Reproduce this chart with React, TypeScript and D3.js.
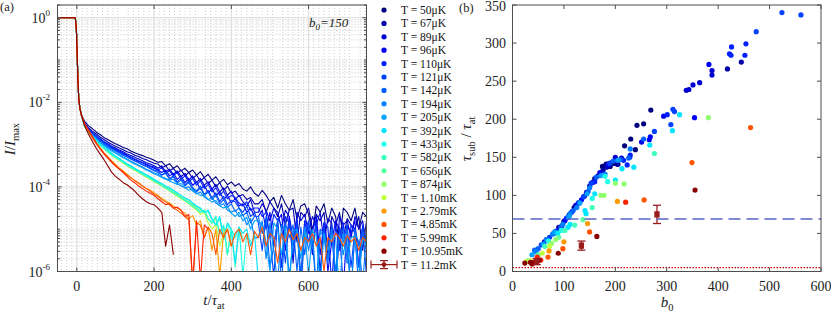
import React from 'react'
import * as d3 from 'd3'

const width = 831
const height = 317
const serif = "'Liberation Serif', 'Times New Roman', 'DejaVu Serif', serif"

// plot frames (px)
const frameA = { left: 57.5, right: 366.5, top: 5, bottom: 271.5 }
const frameB = { left: 512.5, right: 821, top: 5, bottom: 271.5 }

const tempLabels = [
  'T = 50μK', 'T = 67μK', 'T = 89μK', 'T = 96μK', 'T = 110μK', 'T = 121μK', 'T = 142μK',
  'T = 194μK', 'T = 205μK', 'T = 392μK', 'T = 433μK', 'T = 582μK', 'T = 656μK', 'T = 874μK',
  'T = 1.10mK', 'T = 2.79mK', 'T = 4.85mK', 'T = 5.99mK', 'T = 10.95mK', 'T = 11.2mK',
]
const tempColors = [
  '#00007f', '#0000a8', '#0000d0', '#0000f5', '#0020ff', '#0040ff', '#0060ff',
  '#0080ff', '#00a0ff', '#00e5ff', '#1effe6', '#40ffbf', '#5fffa0', '#8fff70',
  '#c0ff40', '#ff9a00', '#ff5500', '#ff2200', '#8b0000', '#9b1c1c',
]

// (a) shared start of every decay: t / tau_at and log10(I/Imax)
const headT = [-50, -4, -1, 1, 3, 5, 8, 12]
const headLog = [0, 0, -0.3, -0.9, -1.5, -1.9, -2.15, -2.3]

// (a) log10(I/Imax) sampled every 10 tau_at starting at t = 20
const tailStart = 20
const tailStep = 10
const decayT50 = [-2.45, -2.55, -2.62, -2.7, -2.76, -2.83, -2.88, -2.93, -2.98,
  -3.02, -3.07, -3.1, -3.15, -3.19, -3.23, -3.26, -3.3, -3.33, -3.37,
  -3.42, -3.4, -3.5, -3.45, -3.56, -3.5, -3.62, -3.56, -3.66, -3.6,
  -3.72, -3.64, -3.78, -3.7, -3.84, -3.76, -3.9, -3.82, -3.95, -3.88,
  -3.98, -3.92, -4.05, -4.1, -4.0, -4.15,
  -4.22, -4.08, -4.2, -4.35, -4.25, -4.5, -4.2, -4.4, -4.55, -4.3, -4.75, -4.45, -4.4, -4.65, -5.1,
  -4.45, -4.6, -4.4, -4.85, -4.5, -4.7, -5.4, -4.5, -4.6, -4.8, -4.5, -5.0, -4.6, -4.7, -4.6]
const decayT67 = [-2.5, -2.6, -2.68, -2.75, -2.82, -2.88, -2.94, -2.99, -3.04,
  -3.08, -3.12, -3.17, -3.2, -3.25, -3.28, -3.33, -3.36, -3.4, -3.44,
  -3.46, -3.55, -3.5, -3.62, -3.56, -3.68, -3.6, -3.74, -3.66, -3.8,
  -3.72, -3.86, -3.78, -3.92, -3.84, -4.0, -3.9, -4.08, -3.98, -4.15,
  -4.1, -4.22, -4.18, -4.3, -4.25, -4.4,
  -4.4, -4.3, -4.6, -4.35, -4.5, -4.7, -4.4, -4.9, -4.55, -4.5, -5.3, -4.6, -4.7, -4.5, -5.0,
  -4.65, -4.8, -4.6, -5.6, -4.7, -4.9, -4.6, -5.2, -4.75, -4.9, -5.0, -4.7, -5.5, -4.8, -4.9]
const decayT89 = [-2.52, -2.63, -2.72, -2.8, -2.86, -2.93, -2.98, -3.04, -3.08,
  -3.13, -3.17, -3.22, -3.26, -3.3, -3.34, -3.38, -3.43, -3.46, -3.5,
  -3.56, -3.5, -3.64, -3.58, -3.7, -3.62, -3.76, -3.68, -3.84, -3.74,
  -3.9, -3.8, -3.96, -3.88, -4.05, -3.94, -4.12, -4.02, -4.2, -4.1,
  -4.3, -4.2, -4.35, -4.45, -4.3, -4.6,
  -4.6, -4.4, -4.55, -4.8, -4.5, -4.6, -5.0, -4.55, -4.7, -5.8, -4.6, -4.8, -4.65, -5.1, -4.7,
  -4.9, -4.6, -5.3, -4.75, -4.85, -6.2, -4.7, -4.9, -4.8, -5.2, -4.7, -5.0, -4.8, -5.4, -4.9]
const decayT96 = [-2.55, -2.66, -2.75, -2.83, -2.9, -2.96, -3.02, -3.07, -3.12,
  -3.17, -3.22, -3.26, -3.31, -3.35, -3.4, -3.43, -3.48, -3.52, -3.56,
  -3.6, -3.66, -3.6, -3.74, -3.68, -3.82, -3.74, -3.9, -3.8, -3.96,
  -3.88, -4.06, -3.96, -4.14, -4.04, -4.22, -4.12, -4.3, -4.2, -4.38,
  -4.28, -4.45, -4.4, -4.6, -4.5, -4.7,
  -4.7, -4.55, -5.0, -4.6, -5.4, -4.8, -4.65, -5.5, -4.7, -5.2, -4.75, -6.3, -4.8, -4.9, -5.6,
  -4.7, -5.6, -4.85, -6.0, -5.3, -4.8, -5.0, -6.4, -4.9, -5.1, -4.8, -5.9, -4.95, -5.3, -5.2]
const decayT110 = [-2.5, -2.62, -2.71, -2.79, -2.87, -2.93, -2.99, -3.05, -3.1,
  -3.15, -3.2, -3.25, -3.29, -3.34, -3.38, -3.42, -3.46, -3.5, -3.53,
  -3.6, -3.55, -3.68, -3.62, -3.74, -3.66, -3.82, -3.74, -3.88, -3.8,
  -3.96, -3.86, -4.04, -3.94, -4.12, -4.02, -4.2, -4.1, -4.28, -4.2,
  -4.25, -4.38, -4.45, -4.35, -4.55, -4.5,
  -4.5, -4.7, -4.6, -5.2, -4.65, -4.8, -5.9, -4.7, -4.85, -5.4, -4.75, -6.2, -4.8, -5.3, -5.0,
  -4.8, -6.0, -4.85, -4.95, -6.3, -4.9, -5.5, -4.85, -5.8, -4.9, -5.1, -6.4, -4.9, -5.3, -5.0]
const decayT121 = [-2.55, -2.67, -2.76, -2.84, -2.91, -2.98, -3.04, -3.1, -3.15,
  -3.2, -3.25, -3.29, -3.34, -3.38, -3.43, -3.47, -3.51, -3.55, -3.6,
  -3.63, -3.72, -3.66, -3.8, -3.74, -3.88, -3.8, -3.95, -3.86, -4.02,
  -4.1, -3.98, -4.18, -4.08, -4.26, -4.14, -4.35, -4.22, -4.42, -4.32,
  -4.35, -4.5, -4.6, -4.45, -4.7, -4.6,
  -4.85, -5.5, -4.7, -5.2, -6.1, -4.75, -4.9, -5.8, -4.8, -5.6, -4.85, -6.4, -5.1, -4.8, -5.4,
  -4.9, -6.2, -4.95, -5.5, -4.9, -6.5, -4.95, -5.3, -4.9, -5.9, -5.0, -5.4, -4.95, -6.1, -5.0]
const decayT142 = [-2.53, -2.65, -2.74, -2.82, -2.9, -2.97, -3.03, -3.09, -3.14,
  -3.19, -3.24, -3.29, -3.34, -3.39, -3.43, -3.48, -3.52, -3.57, -3.62,
  -3.66, -3.72, -3.68, -3.82, -3.76, -3.9, -3.84, -3.98, -3.9, -4.06,
  -4.12, -4.02, -4.2, -4.12, -4.3, -4.2, -4.4, -4.3, -4.48, -4.4,
  -4.58, -4.5, -4.68, -4.6, -4.85, -4.7,
  -4.7, -5.1, -4.75, -5.9, -5.4, -4.8, -6.3, -4.85, -5.2, -4.9, -6.0, -4.95, -5.6, -4.9, -5.3,
  -6.4, -5.0, -5.1, -5.7, -5.0, -6.2, -5.2, -5.0, -5.4, -6.5, -5.0, -5.9, -5.05, -5.4, -5.1]
const decayT194 = [-2.56, -2.68, -2.78, -2.86, -2.94, -3.01, -3.07, -3.13, -3.19,
  -3.24, -3.29, -3.34, -3.39, -3.44, -3.49, -3.53, -3.58, -3.62, -3.67,
  -3.7, -3.76, -3.8, -3.84, -3.82, -3.92, -3.98, -4.02, -4.0, -4.1,
  -4.16, -4.12, -4.24, -4.3, -4.26, -4.38, -4.44, -4.4, -4.55, -4.6,
  -4.55, -4.7, -4.65, -4.9, -4.75, -5.2,
  -5.2, -4.8, -5.7, -4.85, -5.5, -6.3, -4.9, -5.0, -6.1, -5.3, -5.0, -6.2, -4.95, -5.5, -5.0,
  -6.4, -5.05, -5.2, -5.8, -5.0, -6.0, -5.1, -5.6, -5.05, -6.5, -5.1, -5.3, -6.3, -5.1, -5.2]
const decayT205 = [-2.55, -2.68, -2.78, -2.87, -2.95, -3.02, -3.09, -3.15, -3.2,
  -3.26, -3.31, -3.36, -3.41, -3.46, -3.5, -3.55, -3.6, -3.64, -3.69,
  -3.73, -3.78, -3.82, -3.86, -3.9, -3.94, -3.92, -4.02, -4.08, -4.05,
  -4.15, -4.2, -4.18, -4.3, -4.36, -4.32, -4.45, -4.5, -4.46, -4.62,
  -4.7, -4.6, -4.8, -4.72, -5.0, -4.8,
  -4.8, -4.9, -5.3, -6.0, -4.85, -5.0, -5.6, -4.95, -6.4, -5.05, -5.0, -5.7, -5.0, -6.1, -5.05,
  -5.15, -6.3, -5.1, -5.5, -5.15, -5.2, -6.5, -5.1, -5.8, -5.2, -5.15, -6.2, -5.2, -5.4, -5.2]
const decayT392 = [-2.55, -2.68, -2.79, -2.89, -2.98, -3.06, -3.13, -3.2, -3.27,
  -3.33, -3.39, -3.45, -3.5, -3.56, -3.61, -3.66, -3.71, -3.76, -3.82,
  -3.87, -3.92, -3.98, -4.02, -4.08, -4.14, -4.2, -4.26, -4.3, -4.38,
  -4.45, -4.5, -4.6, -4.55, -4.75, -4.9, -4.7, -5.2, -4.85, -5.0,
  -5.8, -4.95, -5.1, -5.0, -5.4, -5.1, -6.2]
const decayT433 = [-2.57, -2.7, -2.82, -2.92, -3.01, -3.09, -3.17, -3.24, -3.3,
  -3.36, -3.42, -3.48, -3.54, -3.59, -3.64, -3.7, -3.75, -3.8, -3.86,
  -3.91, -3.97, -4.02, -4.08, -4.14, -4.2, -4.25, -4.32, -4.38, -4.45,
  -4.52, -4.6, -4.55, -4.75, -4.85, -4.7, -5.1, -4.9, -5.6, -5.0,
  -5.2, -4.95, -6.1, -5.1, -5.3]
const decayT582 = [-2.56, -2.69, -2.8, -2.9, -2.99, -3.07, -3.14, -3.21, -3.28,
  -3.34, -3.4, -3.46, -3.51, -3.57, -3.62, -3.67, -3.72, -3.77, -3.83,
  -3.88, -3.93, -3.99, -4.04, -4.1, -4.16, -4.22, -4.28, -4.33, -4.4,
  -4.47, -4.53, -4.62, -4.58, -4.78, -4.92, -4.75, -5.25, -4.9, -5.05, -5.9, -5.0, -5.2]
const decayT656 = [-2.57, -2.7, -2.82, -2.92, -3.01, -3.09, -3.17, -3.24, -3.31,
  -3.37, -3.43, -3.49, -3.55, -3.6, -3.65, -3.71, -3.76, -3.81, -3.87,
  -3.92, -3.97, -4.03, -4.09, -4.15, -4.21, -4.27, -4.33, -4.39, -4.46,
  -4.53, -4.6, -4.56, -4.76, -4.86, -4.72, -5.12, -4.92, -5.6, -5.02, -5.2]
const decayT874 = [-2.57, -2.7, -2.81, -2.91, -3.0, -3.08, -3.16, -3.23, -3.3,
  -3.36, -3.42, -3.47, -3.53, -3.58, -3.63, -3.68, -3.74, -3.79, -3.85,
  -3.9, -3.95, -4.01, -4.06, -4.12, -4.18, -4.24, -4.3, -4.36, -4.42,
  -4.5, -4.58, -4.55, -4.75, -4.85, -4.75, -5.1, -4.95, -5.6, -5.0]
const decayT1100 = [-2.58, -2.71, -2.83, -2.93, -3.02, -3.1, -3.18, -3.25, -3.32,
  -3.38, -3.44, -3.5, -3.56, -3.61, -3.66, -3.71, -3.77, -3.82, -3.88,
  -3.93, -3.98, -4.04, -4.1, -4.16, -4.22, -4.28, -4.34, -4.4, -4.48,
  -4.55, -4.65, -4.6, -4.85, -5.0, -4.9, -5.4, -5.1]
const decayT2790 = [-2.52, -2.67, -2.82, -2.96, -3.08, -3.19, -3.29, -3.38, -3.47,
  -3.55, -3.62, -3.7, -3.78, -3.85, -3.92, -3.98, -4.04, -4.08, -4.14,
  -4.2, -4.27, -4.33, -4.38, -4.45, -4.5, -4.56, -4.62, -4.75, -4.68,
  -4.9, -4.8, -5.2, -4.95, -5.5, -5.0, -6.1, -5.1, -5.0, -5.4]
const decayT4850 = [-2.52, -2.68, -2.84, -2.98, -3.1, -3.22, -3.32, -3.42, -3.5,
  -3.58, -3.64, -3.72, -3.78, -3.85, -3.9, -3.98, -4.04, -4.1, -4.18,
  -4.22, -4.3, -4.36, -4.42, -4.5, -4.55, -4.62, -4.7, -4.78, -6.3,
  -4.85, -4.9, -5.2, -4.95, -5.1, -5.6, -5.0, -5.2, -5.0, -5.4,
  -5.1, -5.0, -5.3, -5.1, -5.6, -5.05, -5.2, -4.95, -5.4, -5.1,
  -5.2, -5.8, -5.1, -5.3, -5.0, -5.25, -5.1, -5.5, -5.2, -5.3,
  -5.1, -5.4, -5.2, -6.0, -5.2, -5.3, -5.1, -5.2, -5.4, -5.15,
  -5.3, -5.2, -5.5, -5.2, -5.3]
const decayT5990 = [-2.5, -2.65, -2.8, -2.95, -3.08, -3.2, -3.3, -3.4, -3.5,
  -3.58, -3.66, -3.75, -3.84, -3.9, -3.98, -4.04, -4.1, -4.15, -4.2,
  -4.28, -4.35, -4.42, -4.4, -4.5, -4.48, -4.55, -4.7, -4.65, -6.3,
  -4.8, -6.2, -4.9, -5.0]
const decayT10950 = [-2.55, -2.75, -2.92, -3.08, -3.22, -3.35, -3.5, -3.65, -3.75,
  -3.82, -3.9, -3.95, -4.02, -4.1, -4.2, -4.28, -4.35, -4.4, -4.42,
  -4.5, -4.6, -5.4, -4.9, -5.6]

// (b) tau_sub / tau_at versus b0, [b0, tau]
const pointsT50 = [[175, 138], [182, 141], [188, 142], [193, 143], [198, 142], [204, 141], [190, 138], [218, 165], [230, 174], [242, 192], [255, 194], [269, 212], [239, 160], [120, 84], [140, 99], [160, 122], [167, 126], [100, 66], [80, 50]]
const pointsT67 = [[445, 275], [418, 266], [150, 112], [156, 117], [176, 133], [183, 137], [130, 90], [110, 74], [90, 58], [66, 42], [205, 141]]
const pointsT89 = [[364, 248], [351, 245], [343, 239], [338, 238], [388, 258], [388, 264], [200, 150], [212, 149], [144, 104], [123, 87], [96, 60], [62, 39]]
const pointsT96 = [[354, 202], [382, 272], [294, 204], [251, 170], [266, 173], [268, 177], [134, 94], [115, 78], [102, 67], [85, 53], [170, 130], [186, 140]]
const pointsT110 = [[422, 286], [425, 284], [452, 284], [426, 295], [454, 299], [228, 150], [229, 153], [216, 146], [223, 140], [301, 206], [160, 118], [128, 90], [105, 70]]
const pointsT121 = [[474, 315], [524, 340], [561, 337], [308, 193], [312, 213], [315, 210], [276, 184], [189, 142], [153, 116], [138, 98], [86, 52], [72, 45], [56, 35]]
const pointsT142 = [[255, 174], [226, 149], [163, 124], [147, 105], [118, 80], [108, 71], [94, 58], [50, 30], [43, 28], [196, 145], [210, 147]]
const pointsT194 = [[229, 161], [150, 110], [125, 84], [112, 76], [98, 62], [78, 49], [66, 42], [46, 26], [180, 128]]
const pointsT205 = [[205, 146], [172, 126], [145, 102], [131, 90], [110, 72], [82, 52], [60, 36], [38, 22]]
const pointsT392 = [[311, 185], [267, 166], [236, 137], [213, 135], [325, 206], [141, 80], [143, 76], [108, 58], [112, 62], [88, 50], [160, 102], [200, 120]]
const pointsT433 = [[180, 125], [155, 96], [95, 54], [70, 40], [185, 118]]
const pointsT582 = [[276, 155], [155, 84], [121, 61], [102, 54], [63, 33]]
const pointsT656 = [[137, 68], [90, 45], [50, 22], [30, 14]]
const pointsT874 = [[381, 202], [217, 115], [200, 116], [172, 100], [178, 100], [84, 42], [76, 37]]
const pointsT1100 = [[72, 33], [27, 13], [35, 14], [58, 24]]
const pointsT2790 = [[146, 63], [100, 39], [71, 27], [204, 92]]
const pointsT4850 = [[463, 189], [349, 143], [150, 52], [256, 94], [98, 30], [69, 19]]
const pointsT5990 = [[220, 91], [48, 19], [40, 12], [55, 15]]
const pointsT10950 = [[355, 107], [164, 46], [89, 24], [24, 11], [35, 12], [45, 13], [52, 15], [38, 10]]
// T = 11.2 mK: [b0, tau, error]
const errorT11200 = [[47, 13, 4], [134, 34, 6], [281, 75, 12]]

const decayLevel = 69 // dashed reference line
const floorLevel = 5 // dotted reference line

const decays = [decayT50, decayT67, decayT89, decayT96, decayT110, decayT121, decayT142, decayT194, decayT205,
  decayT392, decayT433, decayT582, decayT656, decayT874, decayT1100, decayT2790, decayT4850, decayT5990, decayT10950]
const points = [pointsT50, pointsT67, pointsT89, pointsT96, pointsT110, pointsT121, pointsT142, pointsT194, pointsT205,
  pointsT392, pointsT433, pointsT582, pointsT656, pointsT874, pointsT1100, pointsT2790, pointsT4850, pointsT5990, pointsT10950]
// greens sit under the cyan traces in (a)
const drawOrder = [0, 1, 2, 3, 4, 5, 6, 7, 8, 11, 12, 13, 14, 9, 10, 15, 16, 17, 18]

const axisColor = '#4d4d4d'
const errColor = tempColors[19]

export default function App() {
  const xA = d3.scaleLinear().domain([-50, 750]).range([frameA.left, frameA.right])
  const yA = d3.scaleLog().domain([1e-6, 2]).range([frameA.bottom, frameA.top])
  const xB = d3.scaleLinear().domain([0, 600]).range([frameB.left, frameB.right])
  const yB = d3.scaleLinear().domain([0, 350]).range([frameB.bottom, frameB.top])

  const decayLine = d3
    .line<number[]>()
    .x((d) => xA(d[0]))
    .y((d) => yA(Math.pow(10, d[1])))

  const curves = decays.map((vals) =>
    headT.map((t, i) => [t, headLog[i]]).concat(vals.map((v, i) => [tailStart + i * tailStep, v]))
  )

  // log grid values
  const minorY: number[] = []
  for (let e = -6; e <= 0; e++) {
    for (let k = 1; k <= 9; k++) {
      const v = k * Math.pow(10, e)
      if (v <= 2 && !(k === 1 && e % 2 === 0)) minorY.push(v)
    }
  }
  const majorY = [1e-6, 1e-4, 1e-2, 1]
  const majorXA = [0, 200, 400, 600]
  const minorXA = d3.range(-3, 57).map((i) => (i * 200) / 15).filter((t, i) => (i + 3) % 15 !== 0 && t > -50 && t < 750)

  const xTicksB = d3.range(0, 601, 100)
  const yTicksB = d3.range(0, 351, 50)

  const legendY = (i: number) => 10 + i * 13.4
  const tk = 4
  const txt = { fontFamily: serif }

  return (
    <svg width={width} height={height} style={{ position: 'absolute', left: 0, top: 0, background: '#fff', fontFamily: serif }}>
      <defs>
        <clipPath id="clipA">
          <rect x={frameA.left} y={frameA.top} width={frameA.right - frameA.left} height={frameA.bottom - frameA.top} />
        </clipPath>
      </defs>

      {/* ---------- panel (a) ---------- */}
      <g>
        {minorY.map((v, i) => (
          <line key={'gy' + i} x1={frameA.left} x2={frameA.right} y1={yA(v)} y2={yA(v)} stroke="#bdbdbd" strokeWidth={0.8} strokeDasharray="1 2" />
        ))}
        {minorXA.map((t, i) => (
          <line key={'gx' + i} x1={xA(t)} x2={xA(t)} y1={frameA.top} y2={frameA.bottom} stroke="#c4c4c4" strokeWidth={0.8} strokeDasharray="1 2" />
        ))}
        {majorY.map((v, i) => (
          <line key={'My' + i} x1={frameA.left} x2={frameA.right} y1={yA(v)} y2={yA(v)} stroke="#dcdcdc" strokeWidth={1} />
        ))}
        {majorXA.map((t, i) => (
          <line key={'Mx' + i} x1={xA(t)} x2={xA(t)} y1={frameA.top} y2={frameA.bottom} stroke="#dcdcdc" strokeWidth={1} />
        ))}
      </g>
      <g clipPath="url(#clipA)" fill="none" strokeWidth={1.1} strokeLinejoin="round">
        {drawOrder.map((i) => (
          <path key={'c' + i} d={decayLine(curves[i]) || ''} stroke={tempColors[i]} />
        ))}
      </g>
      <g stroke={axisColor} strokeWidth={1}>
        <rect x={frameA.left} y={frameA.top} width={frameA.right - frameA.left} height={frameA.bottom - frameA.top} fill="none" />
        {majorXA.map((t) => (
          <g key={'tx' + t}>
            <line x1={xA(t)} x2={xA(t)} y1={frameA.bottom} y2={frameA.bottom - tk} />
            <line x1={xA(t)} x2={xA(t)} y1={frameA.top} y2={frameA.top + tk} />
          </g>
        ))}
        {minorY.map((v, i) => (
          <g key={'ty' + i}>
            <line x1={frameA.left} x2={frameA.left + 2.5} y1={yA(v)} y2={yA(v)} />
            <line x1={frameA.right} x2={frameA.right - 2.5} y1={yA(v)} y2={yA(v)} />
          </g>
        ))}
        {majorY.map((v, i) => (
          <g key={'tY' + i}>
            <line x1={frameA.left} x2={frameA.left + tk} y1={yA(v)} y2={yA(v)} />
            <line x1={frameA.right} x2={frameA.right - tk} y1={yA(v)} y2={yA(v)} />
          </g>
        ))}
      </g>
      <g fontSize={14} fill="#222" style={txt}>
        {majorXA.map((t) => (
          <text key={'lx' + t} x={xA(t)} y={291} textAnchor="middle">{t}</text>
        ))}
        {majorY.map((v) => (
          <text key={'ly' + v} x={50} y={yA(v) + 5} textAnchor="end">
            10<tspan fontSize={9} dy={-7}>{Math.round(Math.log10(v))}</tspan>
          </text>
        ))}
        <text x={214} y={305} textAnchor="middle" fontSize={15}>
          <tspan fontStyle="italic">t</tspan>/<tspan fontStyle="italic">τ</tspan>
          <tspan fontSize={10.5} dy={4}>at</tspan>
        </text>
        <text transform="translate(15,139) rotate(-90)" textAnchor="middle" fontSize={15}>
          <tspan fontStyle="italic">I</tspan>/<tspan fontStyle="italic">I</tspan>
          <tspan fontSize={10.5} dy={4}>max</tspan>
        </text>
        <text x={0} y={11} fontSize={12.5}>(a)</text>
        <text x={309} y={27} fontSize={13} fontStyle="italic">
          b<tspan fontSize={9} dy={3}>0</tspan><tspan dy={-3}>=150</tspan>
        </text>
      </g>

      {/* ---------- legend ---------- */}
      <g style={txt}>
        {tempLabels.map((label, i) => (
          <g key={'lg' + i}>
            {i < 19 ? (
              <circle cx={384} cy={legendY(i)} r={2.6} fill={tempColors[i]} />
            ) : (
              <g stroke={errColor} strokeWidth={1.2}>
                <line x1={371} x2={397} y1={legendY(i)} y2={legendY(i)} />
                <line x1={371} x2={371} y1={legendY(i) - 4} y2={legendY(i) + 4} />
                <line x1={397} x2={397} y1={legendY(i) - 4} y2={legendY(i) + 4} />
                <line x1={384} x2={384} y1={legendY(i) - 4} y2={legendY(i) + 4} />
                <line x1={380} x2={388} y1={legendY(i) - 4} y2={legendY(i) - 4} />
                <line x1={380} x2={388} y1={legendY(i) + 4} y2={legendY(i) + 4} />
                <circle cx={384} cy={legendY(i)} r={1.8} fill={errColor} />
              </g>
            )}
            <text x={401} y={legendY(i) + 4} fontSize={11.5} fill="#111">{label}</text>
          </g>
        ))}
      </g>

      {/* ---------- panel (b) ---------- */}
      <g>
        {points.map((pts, s) => (
          <g key={'s' + s} fill={tempColors[s]}>
            {pts.map((p, j) => (
              <circle key={j} cx={xB(p[0])} cy={yB(p[1])} r={2.6} />
            ))}
          </g>
        ))}
        <g stroke={errColor} strokeWidth={1.3}>
          {errorT11200.map((p, j) => (
            <g key={'e' + j}>
              <line x1={xB(p[0])} x2={xB(p[0])} y1={yB(p[1] - p[2])} y2={yB(p[1] + p[2])} />
              <line x1={xB(p[0]) - 4} x2={xB(p[0]) + 4} y1={yB(p[1] - p[2])} y2={yB(p[1] - p[2])} />
              <line x1={xB(p[0]) - 4} x2={xB(p[0]) + 4} y1={yB(p[1] + p[2])} y2={yB(p[1] + p[2])} />
              <rect x={xB(p[0]) - 2} y={yB(p[1]) - 2.5} width={4} height={5} fill={errColor} />
            </g>
          ))}
        </g>
        <line x1={frameB.left} x2={frameB.right} y1={yB(decayLevel)} y2={yB(decayLevel)} stroke="#5a64c6" strokeWidth={1.5} strokeDasharray="12 6" />
        <line x1={frameB.left} x2={frameB.right} y1={yB(floorLevel)} y2={yB(floorLevel)} stroke="#c80000" strokeWidth={1.2} strokeDasharray="1.5 1.5" />
      </g>
      <g stroke={axisColor} strokeWidth={1}>
        <rect x={frameB.left} y={frameB.top} width={frameB.right - frameB.left} height={frameB.bottom - frameB.top} fill="none" />
        {xTicksB.map((t) => (
          <g key={'bx' + t}>
            <line x1={xB(t)} x2={xB(t)} y1={frameB.bottom} y2={frameB.bottom - tk} />
            <line x1={xB(t)} x2={xB(t)} y1={frameB.top} y2={frameB.top + tk} />
          </g>
        ))}
        {yTicksB.map((v) => (
          <g key={'by' + v}>
            <line x1={frameB.left} x2={frameB.left + tk} y1={yB(v)} y2={yB(v)} />
            <line x1={frameB.right} x2={frameB.right - tk} y1={yB(v)} y2={yB(v)} />
          </g>
        ))}
      </g>
      <g fontSize={14} fill="#222" style={txt}>
        {xTicksB.map((t) => (
          <text key={'blx' + t} x={xB(t)} y={291} textAnchor="middle">{t}</text>
        ))}
        {yTicksB.map((v) => (
          <text key={'bly' + v} x={506} y={Math.max(yB(v) + 4.5, 11)} textAnchor="end">{v}</text>
        ))}
        <text x={667} y={307} textAnchor="middle" fontSize={15}>
          <tspan fontStyle="italic">b</tspan>
          <tspan fontSize={10.5} dy={4}>0</tspan>
        </text>
        <text transform="translate(471,139) rotate(-90)" textAnchor="middle" fontSize={15}>
          <tspan fontStyle="italic">τ</tspan>
          <tspan fontSize={10.5} dy={4}>sub</tspan>
          <tspan dy={-4}> / </tspan>
          <tspan fontStyle="italic">τ</tspan>
          <tspan fontSize={10.5} dy={4}>at</tspan>
        </text>
        <text x={459} y={12} fontSize={12.5}>(b)</text>
      </g>
    </svg>
  )
}
